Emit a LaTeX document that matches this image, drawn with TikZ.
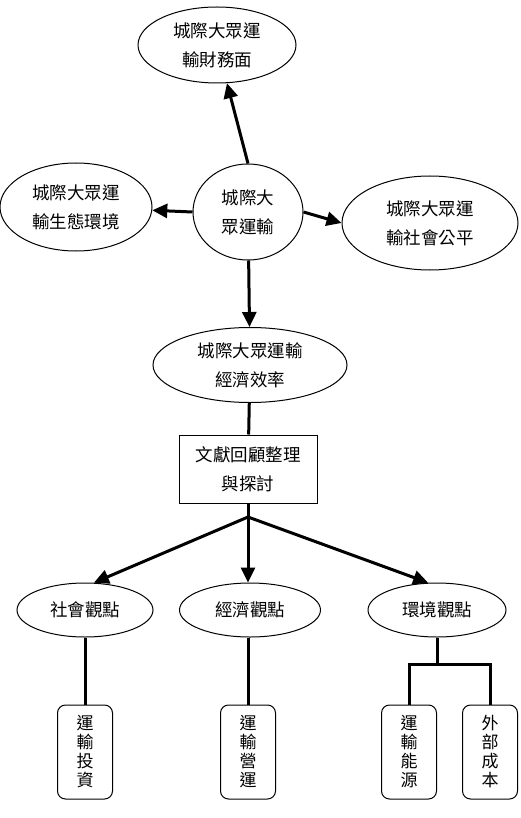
\documentclass[tikz,border=0pt]{standalone}
\usepackage{fontspec}
\newfontfamily\cjk{Noto Sans CJK TC}
\usetikzlibrary{arrows.meta,shapes.geometric}

\begin{document}
\begin{tikzpicture}[x=1pt,y=-1pt,
  every node/.style={inner sep=0pt,font=\cjk\fontsize{17.5}{29}\selectfont,align=center},
  oval/.style={draw,ellipse,line width=1pt},
  plainbox/.style={draw,rectangle,line width=1pt},
  tallbox/.style={draw,rectangle,rounded corners=8pt,line width=1pt,
    minimum width=55pt,minimum height=94pt,font=\cjk\fontsize{17}{19}\selectfont},
  link/.style={line width=3pt},
  arr/.style={link,-{Triangle[length=15pt,width=14pt]}}]
\useasboundingbox (0,0) rectangle (520,818);
\node[oval,minimum width=158pt,minimum height=76pt] (fin) at (217,45) {城際大眾運\\輸財務面};
\node[oval,minimum width=152pt,minimum height=88pt] (eco) at (76,207) {城際大眾運\\輸生態環境};
\node[oval,minimum width=110pt,minimum height=96pt] (core) at (248,212) {城際大\\眾運輸};
\node[oval,minimum width=176pt,minimum height=94pt] (soc) at (430,223) {城際大眾運\\輸社會公平};
\node[oval,minimum width=194pt,minimum height=75pt] (eff) at (250,365) {城際大眾運輸\\經濟效率};
\node[plainbox,minimum width=138pt,minimum height=68pt] (lit) at (248,469) {文獻回顧整理\\與探討};
\coordinate (br) at (248,517);
\node[oval,minimum width=136pt,minimum height=54pt] (vsoc) at (85,610) {社會觀點};
\node[oval,minimum width=141pt,minimum height=54pt] (vecon) at (250,610) {經濟觀點};
\node[oval,minimum width=138pt,minimum height=54pt] (venv) at (437,610) {環境觀點};
\node[tallbox] (inv) at (85,752) {運\\輸\\投\\資};
\node[tallbox] (ops) at (248,752) {運\\輸\\營\\運};
\node[tallbox] (nrg) at (409,752) {運\\輸\\能\\源};
\node[tallbox] (ext) at (490,752) {外\\部\\成\\本};
\draw[arr] (core.north) -- (fin);
\draw[arr] (core.west) -- (eco);
\draw[arr] (core.east) -- (soc.west);
\draw[arr] (core) -- (eff);
\draw[link] (eff) -- (lit);
\draw[link] (lit.south) -- (br);
\draw[arr] (br) -- (vsoc.72);
\draw[arr] (br) -- (br |- vecon.north);
\draw[arr] (br) -- (venv.108);
\draw[link] (vsoc.south) -- (inv.north);
\draw[link] (vecon.south -| ops.north) -- (ops.north);
\draw[link] (venv.south) -- ++(0,27) coordinate (j);
\draw[link] (nrg.north) |- (j) -| (ext.north);
\end{tikzpicture}
\end{document}
